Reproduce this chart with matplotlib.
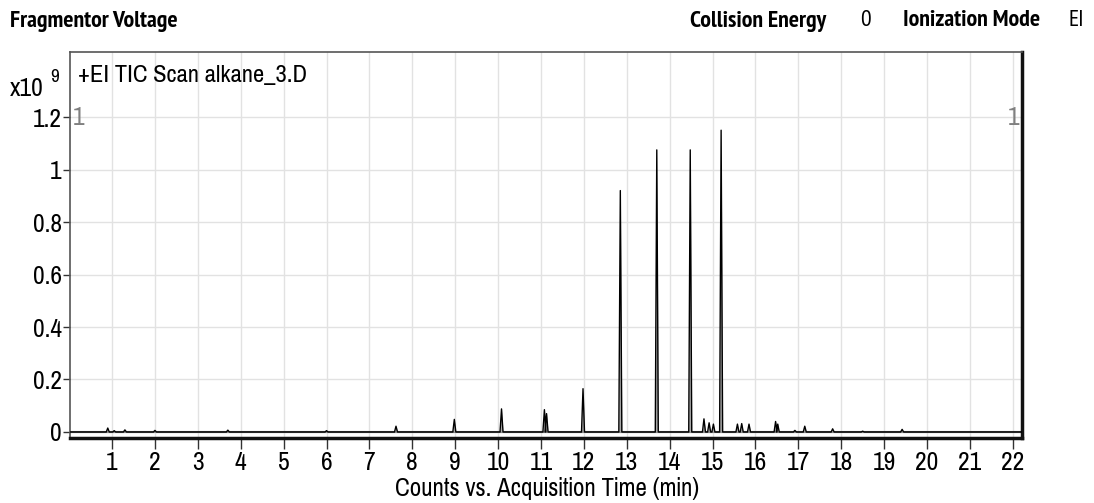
import matplotlib
matplotlib.use("Agg")
import matplotlib.pyplot as plt
import numpy as np

NARROW = ["Pragati Narrow", "Archivo Narrow", "Roboto Condensed", "PT Sans Narrow", "Liberation Sans"]
HEAD = ["PT Sans Narrow", "Pragati Narrow", "Roboto Condensed", "Liberation Sans"]

# Peak list (retention time in min, height in x10^9 counts)
peak_times = [0.90, 1.05, 1.30, 2.00, 3.70, 6.00, 7.62, 8.98, 10.08, 11.08, 11.13,
              11.98, 12.85, 13.70, 14.48, 14.80, 14.92, 15.02, 15.20, 15.58, 15.68,
              15.85, 16.47, 16.52, 16.92, 17.15, 17.80, 18.50, 19.42]
peak_heights = [0.015, 0.005, 0.008, 0.006, 0.007, 0.005, 0.022, 0.048, 0.088, 0.085, 0.070,
                0.165, 0.920, 1.075, 1.075, 0.050, 0.035, 0.030, 1.150, 0.030, 0.032,
                0.030, 0.040, 0.030, 0.006, 0.022, 0.012, 0.003, 0.010]
x_ticks = list(range(1, 23))
y_ticks = [0, 0.2, 0.4, 0.6, 0.8, 1.0, 1.2]
y_tick_labels = ["0", "0.2", "0.4", "0.6", "0.8", "1", "1.2"]

# Build trace as narrow triangles around each listed peak
half_w = 0.035
xs = [0.02]
ys = [0.0]
for t, h in sorted(zip(peak_times, peak_heights)):
    xs += [t - half_w, t, t + half_w]
    ys += [0.0, h, 0.0]
xs.append(22.2)
ys.append(0.0)
xs = np.array(xs)
ys = np.array(ys)

fig = plt.figure(figsize=(10.94, 5.03), dpi=100)
ax = fig.add_axes([0.064, 0.1292, 0.870, 0.7674])

ax.set_xlim(0.02, 22.21)
ax.set_ylim(-0.023, 1.448)

ax.set_xticks(x_ticks)
ax.set_xticklabels([str(v) for v in x_ticks], family=NARROW, fontsize=20)
ax.set_yticks(y_ticks)
ax.set_yticklabels(y_tick_labels, family=NARROW, fontsize=20)
ax.grid(True, color="#e2e2e2", lw=1.0)
ax.set_axisbelow(True)
ax.tick_params(axis="x", length=8, width=1, color="#333333", pad=1)
ax.tick_params(axis="y", length=5, width=1, color="#333333", pad=1)

ax.axhline(0, color="#777777", lw=1.5, zorder=2)
ax.fill_between(xs, 0, ys, color="#a8a8a8", lw=0, zorder=3)
ax.plot(xs, ys, color="black", lw=1.0, zorder=4)

for side in ["left", "top"]:
    ax.spines[side].set_color("#555555")
    ax.spines[side].set_linewidth(1.2)
for side in ["right", "bottom"]:
    ax.spines[side].set_color("#111111")
    ax.spines[side].set_linewidth(2.5)

ax.text(0.5, 1 - 488 / 503, "Counts vs. Acquisition Time (min)", transform=fig.transFigure,
        family=NARROW, fontsize=19.5, va="center", ha="center")

ax.text(0.008, 0.94, "+EI TIC Scan alkane_3.D", transform=ax.transAxes,
        family=NARROW, fontsize=19.3, va="center", ha="left")
ax.text(0.003, 1.2, "1", family=NARROW, fontsize=20, color="#808080",
        transform=ax.get_yaxis_transform(), va="center", ha="left")
ax.text(0.997, 1.2, "1", family=NARROW, fontsize=20, color="#808080",
        transform=ax.get_yaxis_transform(), va="center", ha="right")

fig.text(10 / 1094, 1 - 89 / 503, "x10", family=NARROW, fontsize=20, va="center", ha="left")
fig.text(50 / 1094, 1 - 77 / 503, "9", family=NARROW, fontsize=15, va="center", ha="left")

hdr = dict(family=HEAD, fontsize=17.2, fontweight="bold", va="center")
fig.text(10 / 1094, 1 - 21 / 503, "Fragmentor Voltage", ha="left", **hdr)
fig.text(690 / 1094, 1 - 21 / 503, "Collision Energy", ha="left", **hdr)
fig.text(860 / 1094, 1 - 21 / 503, "0", family=HEAD, fontsize=17, va="center", ha="left")
fig.text(903 / 1094, 1 - 21 / 503, "Ionization Mode", ha="left", **hdr)
fig.text(1069 / 1094, 1 - 21 / 503, "EI", family=HEAD, fontsize=17, va="center", ha="left")

fig.savefig("out.png", dpi=100, facecolor="white")
